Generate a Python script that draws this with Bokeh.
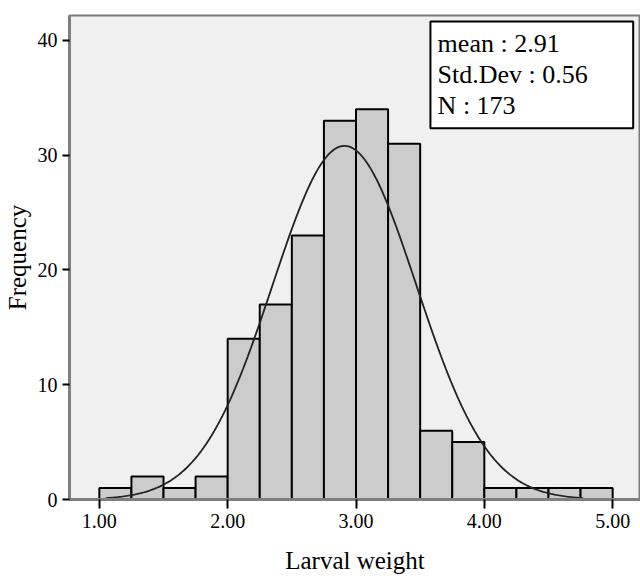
import numpy as np
from bokeh.plotting import figure
from bokeh.models import ColumnDataSource, FixedTicker, CustomJSTickFormatter, BoxAnnotation, Label, Range1d
from bokeh.embed import file_html
from bokeh.resources import INLINE

# ---- data ----
bin_left = [1.00, 1.25, 1.50, 1.75, 2.00, 2.25, 2.50, 2.75, 3.00, 3.25, 3.50, 3.75, 4.00, 4.25, 4.50, 4.75]
bin_width = 0.25
counts = [1, 2, 1, 2, 14, 17, 23, 33, 34, 31, 6, 5, 1, 1, 1, 1]
mean_val = 2.91
sd_val = 0.56
n_val = 173
data_min = 1.05
data_max = 4.77
x_ticks = [1, 2, 3, 4, 5]
y_ticks = [0, 10, 20, 30, 40]
stats_lines = ["mean : 2.91", "Std.Dev : 0.56", "N : 173"]

FONT = "Liberation Serif"

p = figure(width=640, height=576, output_backend="svg", toolbar_location=None,
           x_range=Range1d(0.7674, 5.217), y_range=Range1d(0, 42.17),
           min_border_left=66, min_border_right=0, min_border_top=15, min_border_bottom=76)
p.background_fill_color = "#f0f0f0"
p.border_fill_color = "white"
p.outline_line_color = "#7a7a7a"
p.outline_line_width = 2
p.xgrid.visible = False
p.ygrid.visible = False

src = ColumnDataSource(dict(left=bin_left,
                            right=[b + bin_width for b in bin_left],
                            top=counts,
                            bottom=[0] * len(counts)))
p.quad(left="left", right="right", top="top", bottom="bottom", source=src,
       fill_color="#cccccc", line_color="black", line_width=2)

xs = np.linspace(data_min, data_max, 300)
ys = n_val * bin_width / (sd_val * np.sqrt(2 * np.pi)) * np.exp(-0.5 * ((xs - mean_val) / sd_val) ** 2)
p.line(xs, ys, line_color="#222222", line_width=1.8)

for ax in (p.xaxis[0], p.yaxis[0]):
    ax.axis_line_color = "#7f7f7f"
    ax.axis_line_width = 3
    ax.major_tick_line_color = "black"
    ax.major_tick_line_width = 2
    ax.minor_tick_line_color = None
    ax.major_tick_in = 0
    ax.major_label_text_font = FONT
    ax.major_label_text_font_size = "20px"
    ax.major_label_text_color = "black"
    ax.axis_label_text_font = FONT
    ax.axis_label_text_font_size = "25px"
    ax.axis_label_text_font_style = "normal"
    ax.axis_label_text_color = "black"

p.xaxis.ticker = FixedTicker(ticks=x_ticks)
p.yaxis.ticker = FixedTicker(ticks=y_ticks)
p.xaxis.formatter = CustomJSTickFormatter(code="return tick.toFixed(2);")
p.xaxis.major_tick_out = 9
p.yaxis.major_tick_out = 7
p.xaxis.major_label_standoff = 5
p.yaxis.major_label_standoff = 5
p.xaxis.axis_label = "Larval weight"
p.yaxis.axis_label = "Frequency"
p.xaxis.axis_label_standoff = 16
p.yaxis.axis_label_standoff = 4

box = BoxAnnotation(left=3.58, right=5.16, bottom=32.35, top=41.65,
                    fill_color="white", fill_alpha=1.0,
                    line_color="black", line_width=2, line_alpha=1.0)
p.add_layout(box)

label_y = [39.74, 37.05, 34.35]
for txt, yy in zip(stats_lines, label_y):
    p.add_layout(Label(x=3.636, y=yy, text=txt, text_font=FONT, text_font_size="26px",
                       text_color="black", text_baseline="alphabetic", text_align="left"))

open("out.html", "w").write(file_html(p, INLINE))
